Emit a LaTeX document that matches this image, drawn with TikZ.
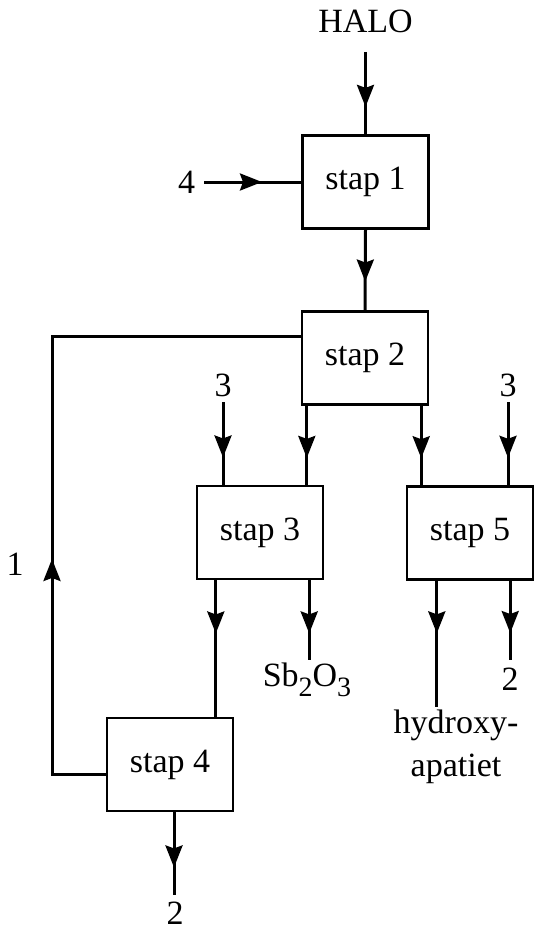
\documentclass[tikz,border=0pt]{standalone}
\usepackage{fontspec}
\setmainfont{Liberation Serif}
\usetikzlibrary{arrows.meta,calc,decorations.markings}

\newcommand{\sub}[1]{\raisebox{-5pt}{\fontsize{14}{14}\selectfont #1}}

\tikzset{
  stapbox/.style={draw,line width=1.2pt,minimum width=63pt,minimum height=46.5pt,inner sep=0pt},
  flow/.style={line width=1.5pt},
  midpijl/.style={postaction={decorate},decoration={markings,
      mark=at position #1 with {\arrow{Stealth[length=11pt,width=8.5pt,inset=1.5pt]}}}},
}

\begin{document}
\begin{tikzpicture}[x=0.5pt,y=-0.5pt,font=\fontsize{17}{21}\selectfont]
  \useasboundingbox (0,0) rectangle (540,931);
  % stappen
  \node[stapbox] (stap1) at (365.5,182) {stap 1};
  \node[stapbox] (stap2) at (365,358) {stap 2};
  \node[stapbox] (stap3) at (260,532.5) {stap 3};
  \node[stapbox] (stap5) at (470,533) {stap 5};
  \node[stapbox] (stap4) at (170,764.5) {stap 4};
  % invoer en uitvoer
  \node[anchor=south,inner sep=9.5pt] (halo) at (365.5,52) {HALO};
  \node[anchor=east,inner sep=4.25pt] (in4) at (204,182) {4};
  \node[anchor=south,inner sep=2.5pt] (in3a) at (223,402) {3};
  \node[anchor=south,inner sep=2.5pt] (in3b) at (508,402) {3};
  \node (een) at (15,564) {1};
  \node[anchor=north,inner sep=1.5pt] (sb) at (307,660) {Sb\sub{2}O\sub{3}};
  \node[anchor=north,inner sep=1.5pt,align=center] (hap) at (456,707) {hydroxy-\\apatiet};
  \node[anchor=north,inner sep=4pt] (uit5) at (510,660) {2};
  \node[anchor=north,inner sep=3.5pt] (uit4) at (175,895) {2};
  % aansluitpunten
  \coordinate (s2a) at ([xshift=3pt]stap2.south west);
  \coordinate (s2b) at ([xshift=-4pt]stap2.south east);
  \coordinate (s3a) at ([xshift=10pt]stap3.south west);
  \coordinate (s3b) at ([xshift=-7.5pt]stap3.south east);
  \coordinate (s5a) at ([xshift=15.5pt]stap5.south west);
  \coordinate (s5b) at ([xshift=-12pt]stap5.south east);
  \coordinate (s4) at ([xshift=2pt]stap4.south);
  \coordinate (terug) at (52,560);
  % stromen
  \draw[flow,midpijl=0.667] (halo.south) -- (stap1.north);
  \draw[flow,midpijl=0.596] (in4.east) -- (stap1.west);
  \draw[flow,midpijl=0.643] (stap1.south) -- (stap2.north);
  \draw[flow,midpijl=0.67] (in3a.south) -- (in3a.south |- stap3.north);
  \draw[flow,midpijl=0.67] (in3b.south) -- (in3b.south |- stap5.north);
  \draw[flow,midpijl=0.66] (s2a) -- (s2a |- stap3.north);
  \draw[flow,midpijl=0.66] (s2b) -- (s2b |- stap5.north);
  \draw[flow,midpijl=0.39] (s3a) -- (s3a |- stap4.north);
  \draw[flow,midpijl=0.667] (s3b) -- (s3b |- sb.north);
  \draw[flow,midpijl=0.417] (s5a) -- (s5a |- hap.north);
  \draw[flow,midpijl=0.66] (s5b) -- (s5b |- uit5.north);
  \draw[flow,midpijl=0.667] (s4) -- (s4 |- uit4.north);
  \draw[flow,midpijl=0.363] ([yshift=-4.75pt]stap4.west) -| (terug) |- ([yshift=11pt]stap2.west);
\end{tikzpicture}
\end{document}
